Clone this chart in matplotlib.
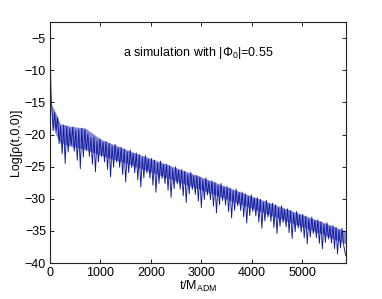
import numpy as np
import matplotlib
matplotlib.use("Agg")
import matplotlib.pyplot as plt

plt.rcParams['font.family'] = ['Liberation Sans', 'DejaVu Sans']

# early transient samples
t_early = [0, 6, 12, 18, 24]
v_early = [-2.5, -6.5, -10.5, -13.0, -14.5]

# oscillation: band-top peak at t=60k-30, spike trough at t=60k (k=1..97)
peaks = [-15.3, -16.6, -17.3, -18.7, -18.5, -18.7, -19.1, -18.8, -19.4, -19.3,
         -19.0, -19.2, -19.9, -20.5, -20.4, -20.97, -20.65, -21.22, -21.10, -21.37,
         -21.84, -21.52, -22.09, -21.97, -22.24, -22.71, -22.39, -22.96, -22.84, -23.11,
         -23.58, -23.26, -23.83, -23.71, -23.98, -24.45, -24.13, -24.70, -24.58, -24.85,
         -25.32, -25.00, -25.57, -25.45, -25.72, -26.19, -25.87, -26.44, -26.32, -26.59,
         -27.06, -26.74, -27.31, -27.19, -27.46, -27.93, -27.61, -28.18, -28.06, -28.33,
         -28.80, -28.48, -29.05, -28.93, -29.20, -29.67, -29.35, -29.92, -29.80, -30.07,
         -30.54, -30.22, -30.79, -30.67, -30.94, -31.41, -31.09, -31.66, -31.54, -31.81,
         -32.28, -31.96, -32.53, -32.41, -32.68, -33.15, -32.83, -33.40, -33.28, -33.55,
         -34.02, -33.70, -34.27, -34.15, -34.42, -34.89, -34.57]
troughs = [-19.4, -19.4, -21.4, -23.0, -24.5, -22.7, -21.6, -22.6, -24.0, -25.3,
           -23.5, -22.5, -23.4, -24.6, -25.8, -24.25, -23.41, -24.25, -25.41, -26.57,
           -25.08, -24.26, -25.09, -26.23, -27.37, -25.92, -25.12, -25.93, -27.05, -28.17,
           -26.75, -25.98, -26.77, -27.88, -28.97, -27.59, -26.83, -27.62, -28.70, -29.77,
           -28.42, -27.69, -28.46, -29.52, -30.57, -29.26, -28.54, -29.30, -30.34, -31.37,
           -30.09, -29.40, -30.14, -31.16, -32.18, -30.93, -30.26, -30.99, -31.99, -32.98,
           -31.77, -31.11, -31.83, -32.81, -33.78, -32.60, -31.97, -32.67, -33.63, -34.58,
           -33.44, -32.83, -33.51, -34.45, -35.38, -34.27, -33.68, -34.36, -35.27, -36.18,
           -35.11, -34.54, -35.20, -36.09, -36.98, -35.94, -35.39, -36.04, -36.92, -37.78,
           -36.78, -36.25, -36.88, -37.74, -38.58, -37.61, -37.11]
t_end = [5860]
v_end = [-38.8]

# light band (dense oscillation) envelope knots
band_t = [30, 100, 200, 400, 700, 1000, 1600, 2200, 3000, 3800, 4600, 5400, 5860]
band_top = [-15.3, -16.4, -18.3, -18.7, -19.0, -20.7, -22.6, -24.3, -26.6, -29.0, -31.3, -33.6, -35.0]
band_bot = [-17.5, -19.8, -21.3, -21.8, -22.3, -23.2, -24.7, -26.4, -28.6, -30.9, -33.2, -35.5, -37.0]

t_reg = np.arange(30, 5821, 30)
v_reg = np.empty(len(t_reg))
v_reg[0::2] = peaks
v_reg[1::2] = troughs

t = np.concatenate([t_early, t_reg, t_end])
v = np.concatenate([v_early, v_reg, v_end])

fig = plt.figure(figsize=(3.82, 2.99), dpi=100)
ax = fig.add_axes([0.131, 0.120, 0.775, 0.806])
ax.fill_between(band_t, band_top, band_bot, color='#8088d4', lw=0)
ax.plot(t, v, color='#121a9c', lw=0.65)

ax.set_xlim(0, 5870)
ax.set_ylim(-40, -2.5)
ax.set_xticks([0, 1000, 2000, 3000, 4000, 5000])
ax.set_yticks([-40, -35, -30, -25, -20, -15, -10, -5])
ax.set_yticklabels(['\u221240', '\u221235', '\u221230', '\u221225', '\u221220', '\u221215', '\u221210', '\u22125'])
ax.tick_params(direction='in', top=True, right=True, labelsize=9, length=3, width=0.6, pad=3)
for s in ax.spines.values():
    s.set_linewidth(0.8)
    s.set_color('#222222')

ax.set_xlabel('t/M$_{\\mathregular{ADM}}$', fontsize=9, labelpad=0)
ax.set_ylabel('Log[\u03c1(t,0,0)]', fontsize=9, labelpad=2)
ax.text(1450, -7.3, 'a simulation with |\u03a6$_{\\mathregular{0}}$|=0.55', fontsize=9, ha='left', va='center')

fig.savefig('out.png', dpi=100)
